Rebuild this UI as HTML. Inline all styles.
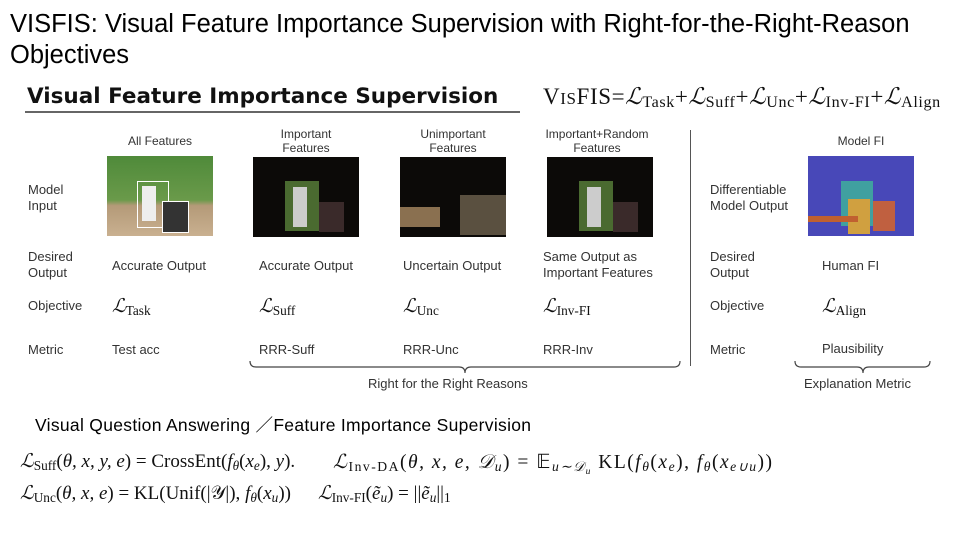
<!DOCTYPE html>
<html><head><meta charset="utf-8"><style>
body{margin:0;width:960px;height:540px;background:#fff;position:relative;overflow:hidden;font-family:"Liberation Sans",Arial,sans-serif;color:#222}
.a{position:absolute;white-space:nowrap}
.s{font-size:13px;color:#333}
.c{text-align:center;transform:translateX(-50%);line-height:14px}
.m{font-family:"Liberation Serif",serif;color:#111}
.img{position:absolute;width:106px;height:80px;background:#0c0a08;overflow:hidden}
sub{font-size:70%;vertical-align:-3px}
</style></head><body>
<div class="a" style="left:10px;top:9px;font-size:25.5px;line-height:31px;color:#000">VISFIS: Visual Feature Importance Supervision with Right-for-the-Right-Reason<br>Objectives</div>
<div class="a" style="left:27px;top:84px;font-family:'DejaVu Sans',sans-serif;font-weight:bold;font-size:21.5px;color:#111">Visual Feature Importance Supervision</div>
<div class="a" style="left:25px;top:111px;width:495px;height:2px;background:#666"></div>
<div class="a m" style="left:543px;top:84px;font-size:23px;letter-spacing:0.6px">V<span style="font-size:17px">IS</span>FIS<span>=</span><i>ℒ</i><sub>Task</sub>+<i>ℒ</i><sub>Suff</sub>+<i>ℒ</i><sub>Unc</sub>+<i>ℒ</i><sub>Inv-FI</sub>+<i>ℒ</i><sub>Align</sub></div>

<div class="a s c" style="left:160px;top:134px;font-size:12px">All Features</div>
<div class="a s c" style="left:306px;top:127px;font-size:12px">Important<br>Features</div>
<div class="a s c" style="left:453px;top:127px;font-size:12px">Unimportant<br>Features</div>
<div class="a s c" style="left:597px;top:127px;font-size:12px">Important+Random<br>Features</div>
<div class="a s c" style="left:861px;top:134px;font-size:12px">Model FI</div>

<div class="img" style="left:107px;top:156px;background:linear-gradient(#4f8a3a 0,#6a9a4a 55%,#b49a78 62%,#c9b090 100%)">
<div class="a" style="left:30px;top:25px;width:30px;height:45px;border:1px solid #fff"></div>
<div class="a" style="left:55px;top:45px;width:25px;height:30px;border:1px solid #fff;background:#333"></div>
<div class="a" style="left:35px;top:30px;width:14px;height:35px;background:#eee"></div></div>
<div class="img" style="left:253px;top:157px"><div class="a" style="left:32px;top:24px;width:34px;height:50px;background:#4a6a30"></div><div class="a" style="left:40px;top:30px;width:14px;height:40px;background:#ccc"></div><div class="a" style="left:66px;top:45px;width:25px;height:30px;background:#3a2a2a"></div></div>
<div class="img" style="left:400px;top:157px"><div class="a" style="left:0;top:50px;width:40px;height:20px;background:#8a7050"></div><div class="a" style="left:60px;top:38px;width:46px;height:40px;background:#5a5040"></div></div>
<div class="img" style="left:547px;top:157px"><div class="a" style="left:32px;top:24px;width:34px;height:50px;background:#4a6a30"></div><div class="a" style="left:40px;top:30px;width:14px;height:40px;background:#ccc"></div><div class="a" style="left:66px;top:45px;width:25px;height:30px;background:#3a2a2a"></div></div>
<div class="img" style="left:808px;top:156px;background:#4848b8"><div class="a" style="left:33px;top:25px;width:32px;height:45px;background:#40a0a0"></div><div class="a" style="left:40px;top:43px;width:22px;height:35px;background:#d0a040"></div><div class="a" style="left:65px;top:45px;width:22px;height:30px;background:#c06040"></div><div class="a" style="left:0;top:60px;width:50px;height:6px;background:#c06030"></div></div>

<div class="a s" style="left:28px;top:182px;line-height:16px">Model<br>Input</div>
<div class="a s" style="left:28px;top:249px;line-height:16px">Desired<br>Output</div>
<div class="a s" style="left:28px;top:298px">Objective</div>
<div class="a s" style="left:28px;top:342px">Metric</div>
<div class="a s" style="left:710px;top:182px;line-height:16px">Differentiable<br>Model Output</div>
<div class="a s" style="left:710px;top:249px;line-height:16px">Desired<br>Output</div>
<div class="a s" style="left:710px;top:298px">Objective</div>
<div class="a s" style="left:710px;top:342px">Metric</div>

<div class="a s" style="left:112px;top:258px">Accurate Output</div>
<div class="a s" style="left:259px;top:258px">Accurate Output</div>
<div class="a s" style="left:403px;top:258px">Uncertain Output</div>
<div class="a s" style="left:543px;top:249px;line-height:16px">Same Output as<br>Important Features</div>
<div class="a s" style="left:822px;top:258px">Human FI</div>

<div class="a m" style="left:112px;top:295px;font-size:19px"><i>ℒ</i><sub>Task</sub></div>
<div class="a m" style="left:259px;top:295px;font-size:19px"><i>ℒ</i><sub>Suff</sub></div>
<div class="a m" style="left:403px;top:295px;font-size:19px"><i>ℒ</i><sub>Unc</sub></div>
<div class="a m" style="left:543px;top:295px;font-size:19px"><i>ℒ</i><sub>Inv-FI</sub></div>
<div class="a m" style="left:822px;top:295px;font-size:19px"><i>ℒ</i><sub>Align</sub></div>

<div class="a s" style="left:112px;top:342px">Test acc</div>
<div class="a s" style="left:259px;top:342px">RRR-Suff</div>
<div class="a s" style="left:403px;top:342px">RRR-Unc</div>
<div class="a s" style="left:543px;top:342px">RRR-Inv</div>
<div class="a s" style="left:822px;top:341px">Plausibility</div>

<div class="a" style="left:690px;top:130px;width:1px;height:236px;background:#555"></div>
<svg class="a" style="left:0;top:0" width="960" height="540"><g fill="none" stroke="#444" stroke-width="1.2">
<path d="M250 361 q0 6 6 6 H459 q6 0 6 6 q0-6 6-6 H674 q6 0 6-6"/>
<path d="M795 361 q0 6 6 6 H857 q6 0 6 6 q0-6 6-6 H924 q6 0 6-6"/></g></svg>
<div class="a s" style="left:368px;top:376px">Right for the Right Reasons</div>
<div class="a s" style="left:804px;top:376px">Explanation Metric</div>

<div class="a" style="left:35px;top:412px;font-size:17.5px;letter-spacing:0.3px;color:#000">Visual Question Answering ／Feature Importance Supervision</div>
<div class="a m" style="left:20px;top:450px;font-size:19px"><i>ℒ</i><sub>Suff</sub>(<i>θ, x, y, e</i>) = CrossEnt(<i>f<sub>θ</sub></i>(<i>x<sub>e</sub></i>), <i>y</i>).</div>
<div class="a m" style="left:333px;top:450px;font-size:19.5px;letter-spacing:1.5px"><i>ℒ</i><sub>Inv-DA</sub>(<i>θ, x, e, 𝒟<sub>u</sub></i>) = 𝔼<sub><i>u∼𝒟<sub>u</sub></i></sub> KL(<i>f<sub>θ</sub></i>(<i>x<sub>e</sub></i>), <i>f<sub>θ</sub></i>(<i>x<sub>e∪u</sub></i>))</div>
<div class="a m" style="left:20px;top:482px;font-size:19px"><i>ℒ</i><sub>Unc</sub>(<i>θ, x, e</i>) = KL(Unif(|𝒴|), <i>f<sub>θ</sub></i>(<i>x<sub>u</sub></i>))</div>
<div class="a m" style="left:318px;top:482px;font-size:19px"><i>ℒ</i><sub>Inv-FI</sub>(<i>ẽ<sub>u</sub></i>) = ||<i>ẽ<sub>u</sub></i>||<sub>1</sub></div>
</body></html>
